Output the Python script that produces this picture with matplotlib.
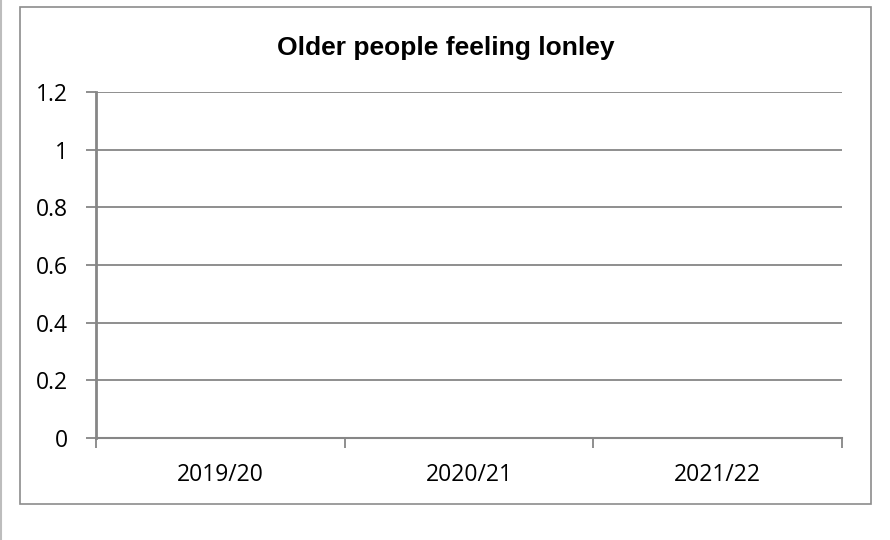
import numpy as np
import matplotlib.pyplot as plt
from matplotlib.patches import Rectangle
from matplotlib.lines import Line2D

title = "Older people feeling lonley"
categories = ["2019/20", "2020/21", "2021/22"]
values = [np.nan, np.nan, np.nan]  # no data shown in the chart
y_ticks = [0, 0.2, 0.4, 0.6, 0.8, 1, 1.2]
y_labels = ["0", "0.2", "0.4", "0.6", "0.8", "1", "1.2"]

W, H = 890, 540
fig = plt.figure(figsize=(W / 100, H / 100), dpi=100)

# outer chart border + left page edge line
fig.add_artist(Rectangle((20 / W, 1 - 504 / H), (871 - 20) / W, (504 - 7) / H,
                         transform=fig.transFigure, fill=False,
                         edgecolor="#8c8c8c", lw=1.2))
fig.add_artist(Line2D([1 / W, 1 / W], [0, 1], transform=fig.transFigure,
                      color="#bdbdbd", lw=1.5))

ax = fig.add_axes([96 / W, 1 - 438 / H, (842 - 96) / W, (438 - 92) / H])
x = np.arange(len(categories)) + 0.5
ax.plot(x, values, color="#4472c4")

ax.set_xlim(0, len(categories))
ax.set_ylim(0, 1.2)
ax.set_yticks(y_ticks)
ax.set_yticklabels(y_labels)
ax.set_xticks(x)
ax.set_xticklabels(categories)
ax.set_xticks(np.arange(len(categories) + 1), minor=True)

for s in ["top", "right"]:
    ax.spines[s].set_visible(False)
ax.spines["left"].set_color("#868686")
ax.spines["left"].set_linewidth(2)
ax.spines["bottom"].set_color("#868686")
ax.spines["bottom"].set_linewidth(1.5)

ax.grid(axis="y", color="#868686", lw=1.3)
ax.set_axisbelow(True)

ax.tick_params(axis="y", length=7, width=1.3, color="#868686", pad=13,
               labelsize=16.5)
ax.tick_params(axis="x", which="major", length=0, pad=18, labelsize=16.5)
ax.tick_params(axis="x", which="minor", length=7, width=1.3, color="#868686")
for lab in ax.get_xticklabels() + ax.get_yticklabels():
    lab.set_fontfamily(["Open Sans", "DejaVu Sans"])
    lab.set_color("black")

fig.text((20 + 871) / 2 / W, 1 - 48 / H, title, ha="center",
         va="center", fontsize=19, fontweight="bold",
         family=["Liberation Sans", "DejaVu Sans"])

fig.savefig("out.png", dpi=100)
